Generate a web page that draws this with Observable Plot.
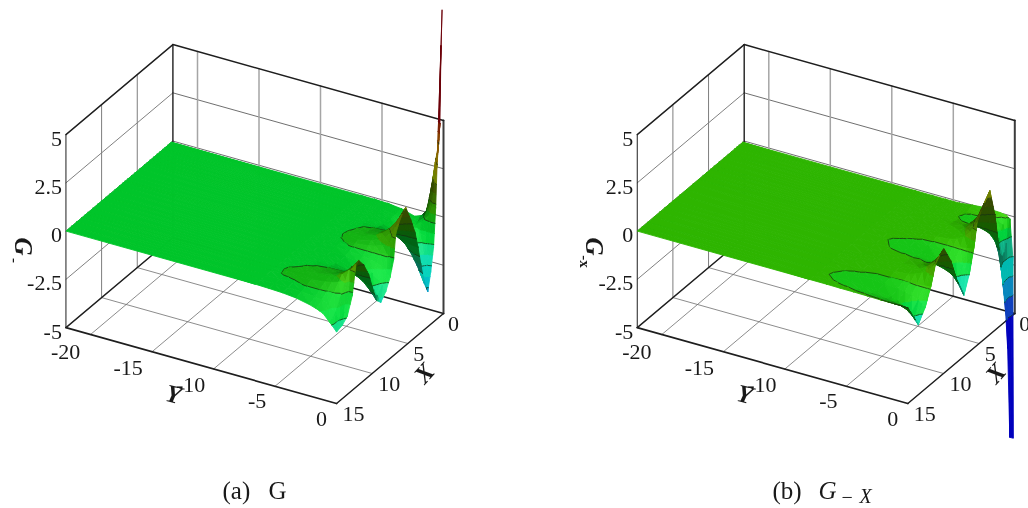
<!DOCTYPE html>
<html><head><meta charset="utf-8">
<script src="https://cdn.jsdelivr.net/npm/d3@7"></script>
<script src="https://cdn.jsdelivr.net/npm/@observablehq/plot@0.6"></script>
<style>html,body{margin:0;padding:0;background:#fff}svg{display:block;filter:blur(.4px)}</style>
</head><body><div id="chart"></div>
<script>
// ---- axis ticks
const yTicks=[-20,-15,-10,-5,0], xTicks=[0,5,10,15], gTicks=[5,2.5,0,-2.5,-5];
const gTickLabels=["5","2.5","0","-2.5","-5"];
const xGrid=[5,10], yGrid=[-20,-15,-10,-5], gGrid=[2.5,0,-2.5];
// ---- panel (a): G, one array per Y station, one value per X station
const xA=[.2,.35,.5,.7,.9,1.1,1.4,1.8,2.2,2.7,3.2,3.6,4,4.6,5.3,5.8,6.3,6.7,7,7.5,8.1,8.8,9.4,10,10.5,11.2,11.9,12.3,12.8,13.5,14.2,15];
const yA=[-22,-6.6,-5.5,-4.4,-3.3,-2.2,-1.65,-1.1,-.55,-.28,0];
const gA_far=[0,0,0,0,0,0,0,0,0,0,0,0,0,0,0,0,0,0,0,0,0,0,0,0,0,0,0,0,0,0,0,0];
const gA_66=[0,0,0,0,0,0,0,0,0,0,0,0,0,0,0,0,0,0,0,0,0,0,0,0,0,0,.02,.02,.02,0,0,0];
const gA_55=[0,0,0,0,0,0,-.01,-.01,-.01,-.01,0,0,.01,.01,.02,.02,.02,.01,.01,0,-.01,-.02,-.01,0,.01,.03,.06,.065,.06,.02,-.01,-.02];
const gA_44=[-.02,-.02,-.02,-.03,-.03,-.03,-.04,-.04,-.05,-.04,-.02,0,.02,.05,.065,.07,.06,.04,.03,-.01,-.04,-.05,-.04,-.01,.03,.07,.1,.11,.08,.03,-.02,-.05];
const gA_33=[-.1,-.1,-.1,-.12,-.12,-.13,-.15,-.17,-.18,-.15,-.09,-.02,.06,.14,.2,.22,.18,.11,.06,-.04,-.11,-.14,-.11,-.03,.05,.12,.18,.19,.14,.06,-.05,-.12];
const gA_22=[-.3,-.3,-.3,-.33,-.35,-.38,-.42,-.5,-.52,-.45,-.28,-.08,.09,.27,.42,.45,.35,.2,.07,-.1,-.25,-.32,-.27,-.08,.06,.22,.33,.33,.22,.06,-.13,-.27];
const gA_165=[-.15,-.15,-.2,-.3,-.35,-.4,-.55,-.75,-.85,-.75,-.45,-.15,.12,.4,.62,.65,.5,.28,.08,-.15,-.38,-.48,-.4,-.12,.08,.3,.45,.45,.3,.05,-.2,-.38];
const gA_11=[.3,.25,.2,.1,0,-.1,-.6,-1.1,-1.4,-1.2,-.7,-.2,.18,.6,.95,.95,.7,.4,.1,-.25,-.6,-.75,-.6,-.2,.12,.45,.65,.65,.4,.03,-.3,-.53];
const gA_055=[2.8,2.4,2,1.4,.8,.3,-.7,-1.6,-2.15,-1.8,-1,-.3,.3,.9,1.45,1.4,1.05,.6,.15,-.4,-.9,-1.15,-.95,-.35,.2,.7,1,.95,.55,-.1,-.65,-.9];
const gA_028=[3.8,3.4,2.9,2.2,1.5,.8,-.9,-2,-2.7,-2.2,-1.2,-.35,.38,1.1,1.8,1.65,1.35,1,-.03,-.65,-1.1,-1.4,-1.15,-.4,.25,.85,1.2,1.1,-.05,-.8,-1,-1.08];
const gA_0=[10.8,9,5,4,3,.8,-1.14,-2.3,-3.18,-2.6,-1.41,-.4,.45,1.3,2.15,1.95,1.6,1.2,-.05,-.8,-1.35,-1.69,-1.4,-.5,.3,1,1.45,1.3,-.1,-.95,-1.2,-1.3];
// ---- panel (b)
const xB=[.2,.7,1,1.3,1.8,2.24,2.8,3.5,4.2,4.7,5.27,5.75,6.4,7.15,8.1,9,9.96,10.5,11.1,11.8,12.6,13.55,14.3,15];
const yB=[-22,-8,-6.6,-5.5,-4.4,-3.3,-2.2,-1.65,-1.1,-.55,-.28,-.05,0];
const gB_far=[0,0,0,0,0,0,0,0,0,0,0,0,0,0,0,0,0,0,0,0,0,0,0,0];
const gB_8=[0,0,0,0,0,0,0,0,0,0,0,0,0,0,0,0,0,0,0,0,-.01,-.02,-.01,0];
const gB_66=[0,0,0,0,0,0,0,0,0,0,0,0,-.01,-.03,-.02,0,0,0,0,-.02,-.05,-.075,-.04,0];
const gB_55=[0,0,0,0,0,0,0,0,0,0,0,-.01,-.04,-.08,-.05,-.01,.01,.01,0,-.03,-.07,-.1,-.06,-.01];
const gB_44=[0,0,0,-.01,-.01,-.01,.01,.03,.03,.02,.01,-.03,-.07,-.12,-.07,0,.03,.03,.01,-.05,-.1,-.15,-.09,-.01];
const gB_33=[.08,.01,-.03,-.05,-.06,-.04,.03,.1,.1,.07,.03,-.04,-.11,-.18,-.1,.01,.08,.07,.04,-.05,-.13,-.22,-.12,-.02];
const gB_22=[.15,.02,-.05,-.1,-.12,-.08,.06,.25,.24,.18,.09,-.04,-.2,-.33,-.18,.03,.17,.16,.1,-.06,-.2,-.33,-.18,-.03];
const gB_165=[.12,0,-.08,-.15,-.2,-.12,.12,.45,.42,.33,.2,-.03,-.27,-.47,-.25,.07,.3,.28,.2,-.05,-.27,-.44,-.23,-.03];
const gB_11=[.1,-.1,-.2,-.35,-.4,-.2,.25,.8,.72,.6,.4,0,-.4,-.72,-.34,.15,.5,.48,.36,-.02,-.35,-.6,-.3,-.03];
const gB_055=[.05,-.3,-.6,-.8,-.8,-.35,.5,1.4,1.25,1.05,.75,.06,-.62,-1.1,-.48,.3,.82,.78,.6,0,-.5,-.85,-.42,-.03];
const gB_028=[-.1,-1.2,-1.6,-1.7,-1.3,-.5,.7,1.9,1.65,1.4,1.05,.1,-.8,-1.45,-.62,.42,1.1,1.02,.8,.02,-.63,-1.08,-.55,-.04];
const gB_005=[-2,-6,-5,-3.9,-2.2,-.8,.95,2.35,2,1.72,1.3,.14,-.95,-1.75,-.73,.52,1.38,1.24,.99,.03,-.76,-1.3,-.66,-.05];
const gB_0=[-11.4,-11.2,-6.5,-4.44,-2.4,-.87,1,2.46,2.1,1.8,1.4,.15,-1,-1.84,-.77,.55,1.45,1.3,1.04,.03,-.8,-1.37,-.7,-.05];

const surfaceA=[gA_far,gA_66,gA_55,gA_44,gA_33,gA_22,gA_165,gA_11,gA_055,gA_028,gA_0];
const surfaceB=[gB_far,gB_8,gB_66,gB_55,gB_44,gB_33,gB_22,gB_165,gB_11,gB_055,gB_028,gB_005,gB_0];

// ---- oblique view of the box (the plot's x/y scales take the projected values)
const view=(dx)=>(X,Y,G)=>[dx+443+12.3*Y-7.13*X, 120+3.45*Y+6*X+19.3*(5-G)];
const yMin=-22, xMax=15;

function colorRamp(zero,below,above){
  return d3.scaleLinear()
    .domain([-5.5,-4.5,-3.5,-2.5,-1.5,-.75,0,.5,1.5,2.5,3.5,4.5,5.2])
    .range(["rgb(0,0,210)","rgb(15,70,210)","rgb(10,150,210)","rgb(0,205,195)","rgb(20,225,170)",below,zero,above,"rgb(95,150,0)","rgb(135,140,0)","rgb(155,115,0)","rgb(150,60,0)","rgb(120,0,10)"])
    .clamp(true);
}
function buildSurface(xs,ys,table,project,opt){
  const nx=xs.length,ny=ys.length;
  const g=(i,j)=>table[j][i];
  const sX=1,sY=1.1,sG=1.15;
  const normal=(i,j)=>{
    const i0=Math.max(i-1,0),i1=Math.min(i+1,nx-1),j0=Math.max(j-1,0),j1=Math.min(j+1,ny-1);
    const a=(g(i1,j)-g(i0,j))/(xs[i1]-xs[i0])*sG/sX, b=(g(i,j1)-g(i,j0))/(ys[j1]-ys[j0])*sG/sY;
    const l=Math.hypot(a,b,1);return [-a/l,-b/l,1/l];
  };
  const L=[.56,.3,.77];
  const V=(i,j)=>({X:xs[i],Y:ys[j],G:g(i,j),n:normal(i,j)});
  const mix=(p,q,t)=>({X:p.X+(q.X-p.X)*t,Y:p.Y+(q.Y-p.Y)*t,G:p.G+(q.G-p.G)*t,n:p.n.map((v,k)=>v+(q.n[k]-v)*t)});
  const clip=(poly,lv,keepAbove)=>{
    const out=[];
    for(let k=0;k<poly.length;k++){
      const p=poly[k],q=poly[(k+1)%poly.length];
      const pi=keepAbove?p.G>=lv:p.G<=lv, qi=keepAbove?q.G>=lv:q.G<=lv;
      if(pi)out.push(p);
      if(pi!==qi)out.push(mix(p,q,(lv-p.G)/(q.G-p.G)));
    }
    return out;
  };
  const shade=(poly,base,mid)=>{
    let n=[0,0,0];poly.forEach(p=>p.n.forEach((v,k)=>n[k]+=v));
    const l=Math.hypot(...n);n=n.map(v=>v/l);
    let f=(n[0]*L[0]+n[1]*L[1]+n[2]*L[2])/L[2];
    if(Math.abs(f-1)<.06)f=1;else f-=Math.sign(f-1)*.06;
    const c=d3.rgb(base);
    if(f>=1){const t=Math.min((f-1)*opt.hi,1)*(mid<-1.6?.25:1);
      return `rgb(${Math.round(c.r+(255-c.r)*t*.4)},${Math.round(c.g+(255-c.g)*Math.min(t*1.6,1))},${Math.round(c.b+(255-c.b)*t*.3)})`;}
    const d=Math.max(f,Math.abs(mid)>2.2?.9:opt.lo);
    return `rgb(${Math.round(c.r*d)},${Math.round(c.g*d)},${Math.round(c.b*d)})`;
  };
  const pts=[];let id=0;
  const push=(poly,fill,stroke,w)=>{
    const ring=poly.concat([poly[0]]);
    ring.forEach(p=>{const [sx,sy]=project(p.X,p.Y,p.G);pts.push({sx,sy,id,fill,stroke,w});});
    id++;
  };
  for(let i=0;i<nx-1;i++)for(let j=0;j<ny-1;j++){
    const a=V(i,j),b=V(i+1,j),c=V(i+1,j+1),d=V(i,j+1);
    for(const tri of [[a,d,c],[a,c,b]]){
      for(let k=0;k<opt.edges.length-1;k++){
        let poly=clip(tri,opt.edges[k],true);
        if(poly.length>=3)poly=clip(poly,opt.edges[k+1],false);
        if(poly.length<3)continue;
        const mid=(opt.edges[k]+opt.edges[k+1])/2;
        const col=shade(poly,opt.ramp(mid),mid);
        push(poly,col,col,.9);
      }
      for(const lv of opt.levels){
        const seg=[];
        for(let k=0;k<3;k++){
          const p=tri[k],q=tri[(k+1)%3];
          if((p.G<lv)!==(q.G<lv))seg.push(mix(p,q,(lv-p.G)/(q.G-p.G)));
        }
        if(seg.length===2){
          const [s1,s2]=[project(seg[0].X,seg[0].Y,seg[0].G),project(seg[1].X,seg[1].Y,seg[1].G)];
          pts.push({sx:s1[0],sy:s1[1],id,fill:"none",stroke:"rgb(20,50,20)",w:.75});
          pts.push({sx:s2[0],sy:s2[1],id,fill:"none",stroke:"rgb(20,50,20)",w:.75});
          id++;
        }
      }
    }
  }
  return pts;
}
function boxLines(project){
  const L=[];let id=0;
  const add=(p,q,stroke,w)=>{for(const e of [p,q]){const [sx,sy]=project(...e);L.push({sx,sy,id,stroke,w});}id++;};
  const grid="rgb(95,95,95)";
  for(const g of gGrid){add([0,yMin,g],[0,0,g],grid,.9);add([0,yMin,g],[xMax,yMin,g],grid,.8);}
  for(const y of yGrid){add([0,y,-5],[0,y,5],"rgb(165,165,165)",1.5);add([0,y,-5],[xMax,y,-5],"rgb(110,110,110)",.8);}
  for(const x of xGrid){add([x,yMin,-5],[x,yMin,5],"rgb(125,125,125)",1);add([x,yMin,-5],[x,0,-5],"rgb(110,110,110)",.8);}
  const k="rgb(30,30,30)";
  add([0,yMin,-5],[0,0,-5],k,1.6);add([0,yMin,-5],[xMax,yMin,-5],k,1.4);
  add([xMax,yMin,-5],[xMax,yMin,5],k,1);add([0,yMin,-5],[0,yMin,5],k,1.4);add([0,0,-5],[0,0,5],"rgb(60,60,60)",2);
  add([xMax,yMin,5],[0,yMin,5],k,1.4);add([0,yMin,5],[0,0,5],k,1.6);
  add([xMax,yMin,-5],[xMax,0,-5],k,1.7);add([xMax,0,-5],[0,0,-5],k,1.5);
  return L;
}
const serif="Liberation Serif";
function gLabels(project){
  return gTicks.map((g,i)=>{const [x,y]=project(xMax,yMin,g);return {x:x-4,y:y+4,t:gTickLabels[i]};});
}
function xyLabels(project){
  const T=[];
  const yOff=[[-25,17],[-24,16],[-23,16],[-18,15],[-15,15]];
  yTicks.forEach((v,i)=>{const [x,y]=project(xMax,v,-5);T.push({x:x+yOff[i][0],y:y+yOff[i][1],t:String(v)});});
  const xOff=[[10,10],[11,10],[17,10],[17,10]];
  xTicks.forEach((v,i)=>{const [x,y]=project(v,0,-5);T.push({x:x+xOff[i][0],y:y+xOff[i][1],t:String(v)});});
  return T;
}
const off=571.3;
const projA=view(0),projB=view(off);
const edges=[-40,-5,-4.5,-4,-3.5,-3,-2.5,-2,-1.5,-1,-.45];
const meshA=buildSurface(xA,yA,surfaceA,projA,{
  ramp:colorRamp("rgb(0,190,35)","rgb(0,215,60)","rgb(35,170,5)"),
  edges:edges.concat([.05,.5,1,1.5,2,2.5,3,3.5,4,4.5,5,40]),
  levels:[.05,1,2,3,4,-1,-2,-3],lo:.5,hi:1.3});
const meshB=buildSurface(xB,yB,surfaceB,projB,{
  ramp:colorRamp("rgb(35,190,0)","rgb(0,210,60)","rgb(60,170,0)"),
  edges:[-40,-5,-4,-3,-2,-1,-.5,-.05,.5,1,1.5,2,2.5,3,40],
  levels:[-.05,1,2,-1,-2,-3,-4,-5],lo:.5,hi:1.3});
const mesh=meshA.concat(meshB.map(d=>({...d,id:"b"+d.id})));
const lines=boxLines(projA).concat(boxLines(projB).map(d=>({...d,id:"b"+d.id})));
const gText=gLabels(projA).concat(gLabels(projB));
const tickText=xyLabels(projA).concat(xyLabels(projB));
const bold=[
 {x:173,y:394,t:"Y",r:14},{x:173+off,y:394,t:"Y",r:14},
 {x:424,y:373,t:"X",r:-48},{x:424+off,y:373,t:"X",r:-48},
 {x:22,y:246,t:"G",r:90},{x:22+off,y:246,t:"G",r:90}];
const boldSub=[
 {x:14,y:260,t:"-",r:90},{x:14+off-1,y:261,t:"-x",r:90}];
const ink="rgb(25,25,25)";
const plot=Plot.plot({
  width:1028,height:508,margin:0,
  x:{domain:[0,1028],range:[0,1028],axis:null},
  y:{domain:[0,508],range:[0,508],axis:null},
  color:{type:"identity"},
  marks:[
    Plot.line(lines,{x:"sx",y:"sy",z:"id",stroke:"stroke",strokeWidth:"w",curve:"linear"}),
    Plot.line(mesh,{x:"sx",y:"sy",z:"id",fill:"fill",stroke:"stroke",strokeWidth:"w",curve:"linear",strokeLinejoin:"round"}),
    Plot.text(gText,{x:"x",y:"y",text:"t",textAnchor:"end",fontSize:22,fontFamily:serif,fill:ink}),
    Plot.text(tickText,{x:"x",y:"y",text:"t",fontSize:22,fontFamily:serif,fill:ink}),
    Plot.text(bold,{x:"x",y:"y",text:"t",rotate:"r",fontSize:25,fontFamily:serif,fontWeight:"bold",fontStyle:"italic",fill:ink}),
    Plot.text(boldSub,{x:"x",y:"y",text:"t",rotate:"r",fontSize:15,fontFamily:serif,fontWeight:"bold",fill:ink}),
    Plot.text([{x:222,y:490,t:"(a)"},{x:268,y:490,t:"G"},{x:772,y:490,t:"(b)"}],{x:"x",y:"y",text:"t",textAnchor:"start",fontSize:25,fontFamily:serif,fill:ink}),
    Plot.text([{x:818,y:490,t:"G"}],{x:"x",y:"y",text:"t",textAnchor:"start",fontSize:25,fontStyle:"italic",fontFamily:serif,fill:ink}),
    Plot.text([{x:841,y:497,t:"−"}],{x:"x",y:"y",text:"t",textAnchor:"start",fontSize:20,fontFamily:serif,fill:ink}),
    Plot.text([{x:859,y:496,t:"X"}],{x:"x",y:"y",text:"t",textAnchor:"start",fontSize:20,fontStyle:"italic",fontFamily:serif,fill:ink})
  ]
});
document.getElementById("chart").append(plot);
</script></body></html>
